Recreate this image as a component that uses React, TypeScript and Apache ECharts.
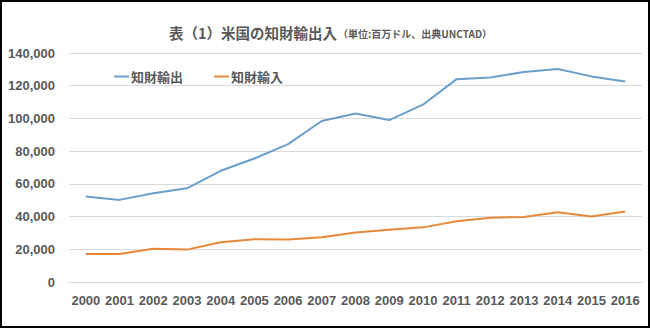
import React, { useEffect, useRef } from "react";
import * as echarts from "echarts";

const years = ["2000","2001","2002","2003","2004","2005","2006","2007","2008","2009","2010","2011","2012","2013","2014","2015","2016"];
const exportValues = [52300, 50200, 54200, 57300, 68000, 75500, 84300, 98400, 103000, 99000, 108400, 124000, 125000, 128400, 130200, 125700, 122600];
const importValues = [17100, 17100, 20300, 19800, 24300, 26200, 26000, 27300, 30200, 32000, 33400, 37100, 39300, 39700, 42600, 40000, 43100];
const yTicks = { min: 0, max: 140000, interval: 20000 };

const FONT_NUM = "'Liberation Sans', Arial, sans-serif";
const FONT_JP = "'Noto Sans CJK JP', 'Noto Sans', sans-serif";
const GREY = "#595959";

export default function App() {
  const ref = useRef<HTMLDivElement>(null);
  useEffect(() => {
    if (!ref.current) return;
    const chart = echarts.init(ref.current, null, { renderer: "svg" });
    chart.setOption({
      animation: false,
      backgroundColor: "#ffffff",
      title: {
        left: 164,
        top: 20,
        text: "{a|表（1）米国の知財輸出入}{b|（単位:百万ドル、出典UNCTAD）}",
        textStyle: {
          rich: {
            a: { fontFamily: FONT_JP, fontSize: 14.5, fontWeight: "bold", color: GREY, verticalAlign: "bottom" },
            b: { fontFamily: FONT_JP, fontSize: 10, fontWeight: "bold", color: GREY, verticalAlign: "bottom", padding: [0, 0, 1, 1] },
          },
        },
      },
      legend: {
        left: 109,
        top: 65,
        itemWidth: 15,
        itemHeight: 2,
        itemGap: 31,
        icon: "rect",
        textStyle: { fontFamily: FONT_JP, fontSize: 13, fontWeight: "bold", color: GREY, padding: [0, 0, 0, -3] },
        data: ["知財輸出", "知財輸入"],
      },
      grid: { left: 69, right: 8, top: 53, bottom: 46, containLabel: false },
      xAxis: {
        type: "category",
        data: years,
        boundaryGap: true,
        axisTick: { show: false },
        axisLine: { lineStyle: { color: "#D9D9D9", width: 1 } },
        axisLabel: { margin: 12, fontFamily: FONT_NUM, fontSize: 13, fontWeight: "bold", color: GREY, interval: 0 },
      },
      yAxis: {
        type: "value",
        min: yTicks.min,
        max: yTicks.max,
        interval: yTicks.interval,
        axisLine: { show: false },
        axisTick: { show: false },
        splitLine: { lineStyle: { color: "#D9D9D9", width: 1 } },
        axisLabel: {
          margin: 14,
          fontFamily: FONT_NUM,
          fontSize: 13,
          fontWeight: "bold",
          color: GREY,
          formatter: (v: number) => v.toLocaleString("en-US"),
        },
      },
      series: [
        {
          name: "知財輸出",
          type: "line",
          data: exportValues,
          symbol: "none",
          lineStyle: { color: "#6A9FCC", width: 2 },
          itemStyle: { color: "#6A9FCC" },
        },
        {
          name: "知財輸入",
          type: "line",
          data: importValues,
          symbol: "none",
          lineStyle: { color: "#E8883A", width: 2 },
          itemStyle: { color: "#E8883A" },
        },
      ],
    });
    return () => chart.dispose();
  }, []);
  return (
    <div style={{ position: "fixed", left: 0, top: 0, width: 650, height: 328, background: "#fff" }}>
      <div ref={ref} style={{ position: "absolute", left: 0, top: 0, width: 650, height: 328 }} />
      <div
        style={{
          position: "absolute",
          left: 0,
          top: 0,
          width: 650,
          height: 328,
          boxSizing: "border-box",
          border: "2px solid #000",
          pointerEvents: "none",
        }}
      />
    </div>
  );
}
